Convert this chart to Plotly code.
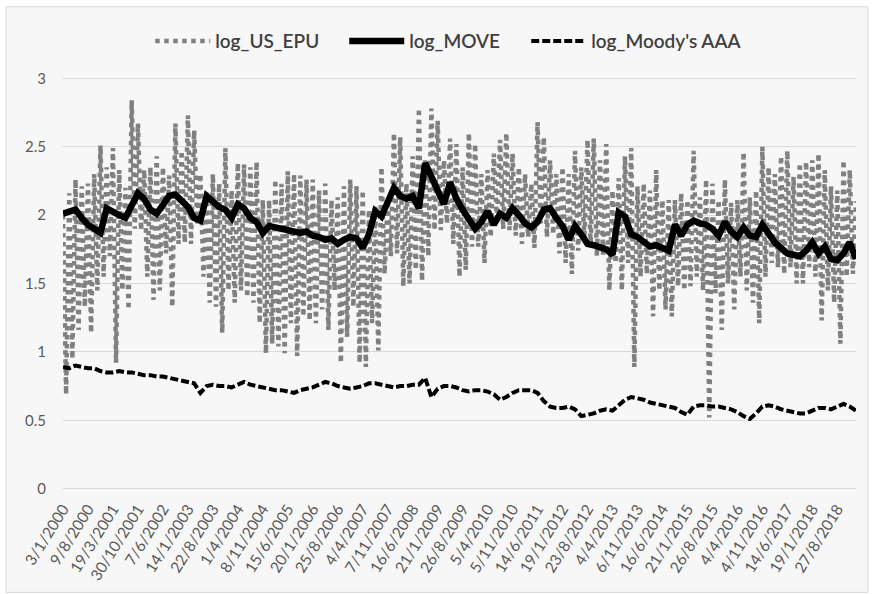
import plotly.graph_objects as go

# Date labels shown on the category axis (every ~153 trading days)
tick_labels = [
    "3/1/2000", "9/8/2000", "19/3/2001", "30/10/2001", "7/6/2002", "14/1/2003",
    "22/8/2003", "1/4/2004", "8/11/2004", "15/6/2005", "20/1/2006", "25/8/2006",
    "4/4/2007", "7/11/2007", "16/6/2008", "21/1/2009", "26/8/2009", "5/4/2010",
    "5/11/2010", "14/6/2011", "19/1/2012", "23/8/2012", "4/4/2013", "6/11/2013",
    "16/6/2014", "21/1/2015", "26/8/2015", "4/4/2016", "4/11/2016", "14/6/2017",
    "19/1/2018", "27/8/2018",
]

# log_US_EPU, 8 readings per label interval
epu_values = [
    2.00, 0.69, 2.16, 0.95, 2.26, 1.16, 2.21, 1.33,
    2.23, 1.14, 2.30, 1.45, 2.51, 1.55, 2.35, 1.70,
    2.49, 0.92, 2.33, 1.45, 2.20, 1.31, 2.84, 1.90,
    2.67, 1.89, 2.33, 1.55, 2.35, 1.38, 2.43, 1.45,
    2.35, 1.72, 2.29, 1.33, 2.67, 1.79, 2.47, 1.80,
    2.73, 1.79, 2.62, 1.94, 2.30, 1.55, 2.18, 1.36,
    2.30, 1.33, 2.23, 1.14, 2.49, 1.45, 2.18, 1.36,
    2.38, 1.45, 2.37, 1.40, 2.35, 1.36, 2.39, 1.21,
    2.11, 0.99, 2.11, 1.06, 2.26, 1.04, 2.23, 0.99,
    2.32, 1.21, 2.30, 0.97, 2.29, 1.26, 2.26, 1.23,
    2.26, 1.21, 2.18, 1.31, 2.23, 1.16, 2.11, 1.45,
    2.13, 0.92, 2.21, 1.11, 2.26, 1.33, 2.21, 0.92,
    2.18, 0.89, 2.04, 1.21, 2.06, 1.01, 2.35, 1.57,
    2.11, 1.70, 2.60, 1.72, 2.57, 1.48, 2.23, 1.50,
    2.43, 1.60, 2.78, 1.52, 2.40, 1.70, 2.78, 1.89,
    2.69, 1.89, 2.40, 1.94, 2.56, 1.79, 2.52, 1.55,
    2.35, 1.60, 2.60, 1.77, 2.52, 1.77, 2.30, 1.65,
    2.33, 1.84, 2.45, 1.94, 2.55, 1.90, 2.60, 1.89,
    2.45, 1.85, 2.35, 1.79, 2.30, 1.84, 2.23, 1.76,
    2.68, 1.94, 2.57, 1.84, 2.40, 1.86, 2.30, 1.72,
    2.35, 1.65, 2.30, 1.57, 2.47, 1.74, 2.35, 1.82,
    2.55, 1.77, 2.56, 1.70, 2.40, 1.70, 2.52, 1.45,
    2.18, 1.65, 2.27, 1.45, 2.43, 1.65, 2.49, 0.89,
    2.21, 1.55, 2.23, 1.57, 2.18, 1.26, 2.33, 1.45,
    2.11, 1.31, 2.11, 1.26, 2.11, 1.48, 2.16, 1.45,
    2.11, 1.48, 2.47, 1.55, 2.13, 1.45, 2.26, 0.52,
    2.23, 1.43, 2.11, 1.16, 2.26, 1.50, 2.09, 1.31,
    2.11, 1.55, 2.46, 1.45, 2.13, 1.36, 2.18, 1.21,
    2.50, 1.55, 2.35, 1.65, 2.30, 1.62, 2.43, 1.57,
    2.47, 1.62, 2.28, 1.50, 2.38, 1.50, 2.39, 1.62,
    2.40, 1.55, 2.45, 1.23, 2.33, 1.45, 2.21, 1.36,
    2.18, 1.06, 2.40, 1.55, 2.33, 1.57, 2.10,
]

# log_MOVE, 4 readings per label interval
move_values = [
    2.01, 2.03, 2.04, 1.98, 1.93, 1.90, 1.87, 2.05,
    2.02, 2.00, 1.98, 2.08, 2.16, 2.12, 2.04, 2.01,
    2.08, 2.14, 2.15, 2.10, 2.06, 1.98, 1.96, 2.14,
    2.10, 2.06, 2.04, 1.98, 2.08, 2.05, 1.98, 1.95,
    1.87, 1.92, 1.91, 1.90, 1.90, 1.89, 1.87, 1.88,
    1.85, 1.84, 1.82, 1.83, 1.79, 1.82, 1.84, 1.83,
    1.76, 1.86, 2.03, 1.99, 2.10, 2.20, 2.14, 2.12,
    2.14, 2.05, 2.38, 2.28, 2.18, 2.08, 2.24, 2.12,
    2.04, 1.97, 1.90, 1.95, 2.03, 1.93, 2.01, 1.98,
    2.05, 2.00, 1.94, 1.91, 1.95, 2.04, 2.05, 1.98,
    1.92, 1.82, 1.92, 1.86, 1.79, 1.78, 1.77, 1.75,
    1.71, 2.02, 1.99, 1.86, 1.84, 1.81, 1.77, 1.78,
    1.76, 1.74, 1.93, 1.85, 1.93, 1.96, 1.94, 1.93,
    1.90, 1.85, 1.95, 1.88, 1.84, 1.91, 1.85, 1.84,
    1.93, 1.87, 1.80, 1.76, 1.72, 1.71, 1.70, 1.74,
    1.80, 1.72, 1.77, 1.68, 1.67, 1.72, 1.80, 1.68,
]

# log_Moody's AAA, 4 readings per label interval
aaa_values = [
    0.89, 0.88, 0.90, 0.89, 0.88, 0.88, 0.86, 0.85,
    0.85, 0.86, 0.85, 0.85, 0.84, 0.83, 0.83, 0.82,
    0.82, 0.81, 0.80, 0.79, 0.78, 0.77, 0.70, 0.75,
    0.76, 0.75, 0.75, 0.74, 0.76, 0.78, 0.76, 0.75,
    0.74, 0.73, 0.72, 0.72, 0.71, 0.70, 0.72, 0.73,
    0.74, 0.76, 0.78, 0.77, 0.75, 0.74, 0.73, 0.74,
    0.75, 0.77, 0.77, 0.76, 0.75, 0.74, 0.75, 0.75,
    0.76, 0.76, 0.81, 0.67, 0.73, 0.75, 0.75, 0.74,
    0.72, 0.71, 0.72, 0.72, 0.71, 0.69, 0.65, 0.67,
    0.70, 0.72, 0.72, 0.72, 0.70, 0.64, 0.60, 0.59,
    0.59, 0.60, 0.58, 0.53, 0.54, 0.55, 0.57, 0.58,
    0.57, 0.61, 0.65, 0.67, 0.66, 0.65, 0.63, 0.62,
    0.61, 0.60, 0.59, 0.56, 0.54, 0.60, 0.61, 0.61,
    0.60, 0.60, 0.59, 0.58, 0.56, 0.53, 0.51, 0.55,
    0.60, 0.61, 0.60, 0.58, 0.57, 0.56, 0.55, 0.55,
    0.57, 0.59, 0.59, 0.58, 0.60, 0.62, 0.60, 0.57,
]

EPU_PER_TICK = 8
SERIES_PER_TICK = 4

epu_x = [i / EPU_PER_TICK for i in range(len(epu_values))]
move_x = [i / SERIES_PER_TICK for i in range(len(move_values))]
aaa_x = [i / SERIES_PER_TICK for i in range(len(aaa_values))]

FONT = "Lato"
TEXT_GREY = "#595959"

fig = go.Figure()

fig.add_trace(
    go.Scatter(
        x=epu_x,
        y=epu_values,
        mode="lines",
        name="log_US_EPU",
        legendwidth=124,
        line=dict(color="#808080", width=4.5, dash="dot"),
    )
)
fig.add_trace(
    go.Scatter(
        x=move_x,
        y=move_values,
        mode="lines",
        name="log_MOVE",
        legendwidth=112,
        line=dict(color="black", width=6.5),
    )
)
fig.add_trace(
    go.Scatter(
        x=aaa_x,
        y=aaa_values,
        mode="lines",
        name="log_Moody's AAA",
        line=dict(color="black", width=4, dash="8px,3px"),
    )
)

# outer chart-area frame, as in the spreadsheet export
fig.add_shape(
    type="rect",
    xref="paper", yref="paper",
    x0=-0.0718, x1=1.0151, y0=-0.248, y1=1.170,
    line=dict(color="#d9d9d9", width=1),
    fillcolor="#f7f7f7",
    layer="below",
)

fig.update_layout(
    width=873,
    height=594,
    autosize=False,
    margin=dict(l=63, r=17, t=77, b=104, autoexpand=False),
    paper_bgcolor="white",
    plot_bgcolor="rgba(0,0,0,0)",
    font=dict(family=FONT, color=TEXT_GREY, size=15),
    showlegend=True,
    legend=dict(
        orientation="h",
        x=0.110,
        xanchor="left",
        y=1.087,
        yanchor="middle",
        font=dict(family=FONT, size=19, color="#404040", weight=600),
        bgcolor="rgba(0,0,0,0)",
        itemwidth=55,
        traceorder="normal",
    ),
    xaxis=dict(
        range=[0, (len(epu_values) - 1) / EPU_PER_TICK],
        tickmode="array",
        tickvals=list(range(len(tick_labels))),
        ticktext=tick_labels,
        tickangle=-58,
        showgrid=False,
        zeroline=False,
        showline=False,
        ticks="",
        automargin=False,
        ticklabelstandoff=6,
        tickfont=dict(family=FONT, size=15.5, color=TEXT_GREY),
    ),
    yaxis=dict(
        range=[-0.01, 3.01],
        tickvals=[0, 0.5, 1, 1.5, 2, 2.5, 3],
        ticktext=["0", "0.5", "1", "1.5", "2", "2.5", "3"],
        showgrid=True,
        gridcolor="#d9d9d9",
        gridwidth=1,
        zeroline=False,
        showline=False,
        ticks="",
        automargin=False,
        ticklabelstandoff=16,
        tickfont=dict(family=FONT, size=15, color=TEXT_GREY),
    ),
)

# drop the browser's default page margin so the figure sits at the window origin
fig.write_html(
    "out.html",
    config={"displayModeBar": False},
    post_script="document.body.style.margin = '0';",
)
